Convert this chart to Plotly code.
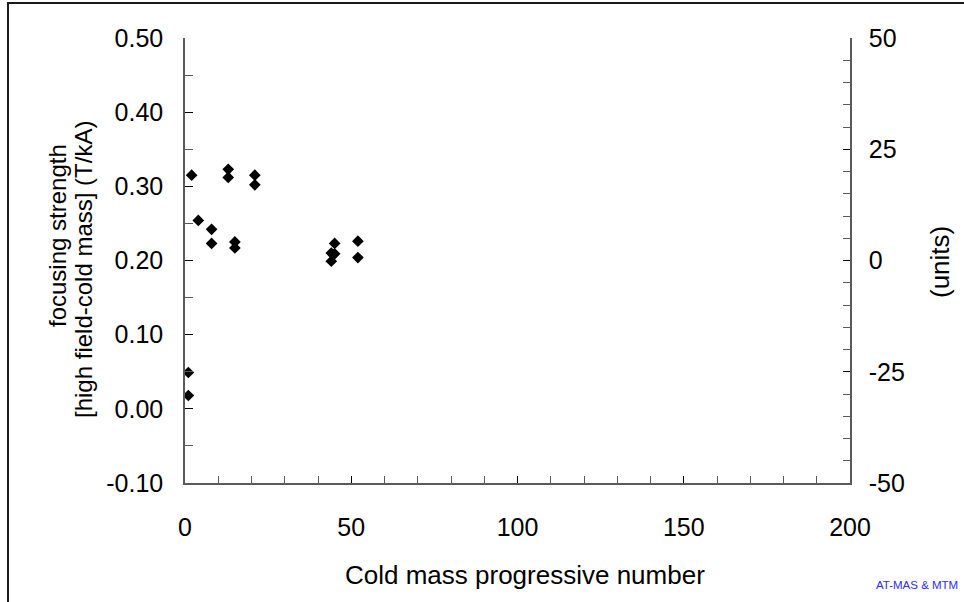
import plotly.graph_objects as go

# Cold mass progressive number and measured focusing strength (T/kA)
cold_mass = [1, 1, 2, 4, 8, 8, 13, 13, 15, 15, 21, 21, 44, 44, 45, 45, 52, 52]
focusing = [0.049, 0.018, 0.315, 0.254, 0.242, 0.223, 0.323, 0.312, 0.225, 0.217,
            0.315, 0.302, 0.210, 0.199, 0.223, 0.209, 0.226, 0.204]

x_ticks = [0, 50, 100, 150, 200]
left_ticks = [-0.10, 0.00, 0.10, 0.20, 0.30, 0.40, 0.50]
right_ticks = [-50, -25, 0, 25, 50]

FONT = "Liberation Sans, Arial, sans-serif"
AXIS_COLOR = "#5a5a5a"

# plot area in pixels, used to place the free-standing labels
L, R, T, B = 185, 850, 38, 483


def px_x(px):
    return (px - L) / (R - L)


def px_y(py):
    return (B - py) / (B - T)


fig = go.Figure()
fig.add_trace(go.Scatter(
    x=cold_mass, y=focusing, mode="markers",
    marker=dict(symbol="diamond", size=9, color="black"),
    showlegend=False, hoverinfo="x+y",
))
# invisible trace to bring up the secondary (units) axis
fig.add_trace(go.Scatter(x=[None], y=[None], yaxis="y2", showlegend=False))

tick_font = dict(family=FONT, size=25, color="black")
title_font = dict(family=FONT, size=26, color="black")
ytitle_font = dict(family=FONT, size=24, color="black")

fig.update_layout(
    width=964, height=602,
    margin=dict(l=L, r=964 - R, t=T, b=602 - B),
    paper_bgcolor="white", plot_bgcolor="white",
    font=dict(family=FONT, color="black"),
    xaxis=dict(
        range=[0, 200], tickvals=x_ticks, ticktext=[str(v) for v in x_ticks],
        ticks="inside", ticklen=7, tickwidth=1, tickcolor="black",
        minor=dict(dtick=10, tick0=0, ticks="inside", ticklen=7, tickcolor=AXIS_COLOR),
        showline=True, linecolor=AXIS_COLOR, linewidth=1.5,
        showgrid=False, zeroline=False, tickfont=tick_font,
        ticklabelstandoff=21,
    ),
    yaxis=dict(
        range=[-0.10, 0.50], tickvals=left_ticks,
        ticktext=[f"{v:.2f}" for v in left_ticks],
        ticks="inside", ticklen=8, tickwidth=1, tickcolor="black",
        minor=dict(dtick=0.05, tick0=0, ticks="inside", ticklen=8, tickcolor=AXIS_COLOR),
        showline=True, linecolor=AXIS_COLOR, linewidth=1.5,
        showgrid=False, zeroline=False, tickfont=tick_font,
        ticklabelstandoff=15,
    ),
    yaxis2=dict(
        range=[-50, 50], tickvals=right_ticks, ticktext=[str(v) for v in right_ticks],
        overlaying="y", side="right",
        ticks="inside", ticklen=7, tickwidth=1, tickcolor="black",
        minor=dict(dtick=5, tick0=0, ticks="inside", ticklen=7, tickcolor=AXIS_COLOR),
        showline=True, linecolor=AXIS_COLOR, linewidth=1.5,
        showgrid=False, zeroline=False, tickfont=tick_font,
        ticklabelstandoff=12,
    ),
    shapes=[dict(
        type="rect", xref="paper", yref="paper",
        x0=px_x(8), y0=-1.0, x1=2.0, y1=px_y(3),
        line=dict(color="#1a1a1a", width=2), fillcolor="rgba(0,0,0,0)",
        layer="below",
    )],
    annotations=[
        dict(text="focusing strength",
             xref="paper", yref="paper", x=px_x(57), y=px_y(236),
             xanchor="center", yanchor="middle", textangle=-90, showarrow=False,
             font=ytitle_font),
        dict(text="[high field-cold mass] (T/kA)",
             xref="paper", yref="paper", x=px_x(83), y=px_y(270),
             xanchor="center", yanchor="middle", textangle=-90, showarrow=False,
             font=ytitle_font),
        dict(text="(units)", xref="paper", yref="paper", x=px_x(940), y=px_y(262),
             xanchor="center", yanchor="middle", textangle=-90, showarrow=False,
             font=title_font),
        dict(text="Cold mass progressive number", xref="paper", yref="paper",
             x=px_x(525), y=px_y(575), xanchor="center", yanchor="middle",
             showarrow=False, font=title_font),
        dict(text="AT-MAS & MTM", xref="paper", yref="paper",
             x=px_x(960), y=px_y(585), xanchor="right", yanchor="middle",
             showarrow=False, font=dict(family=FONT, size=11.5, color="#2b2bff")),
    ],
)

fig.write_html("out.html")
